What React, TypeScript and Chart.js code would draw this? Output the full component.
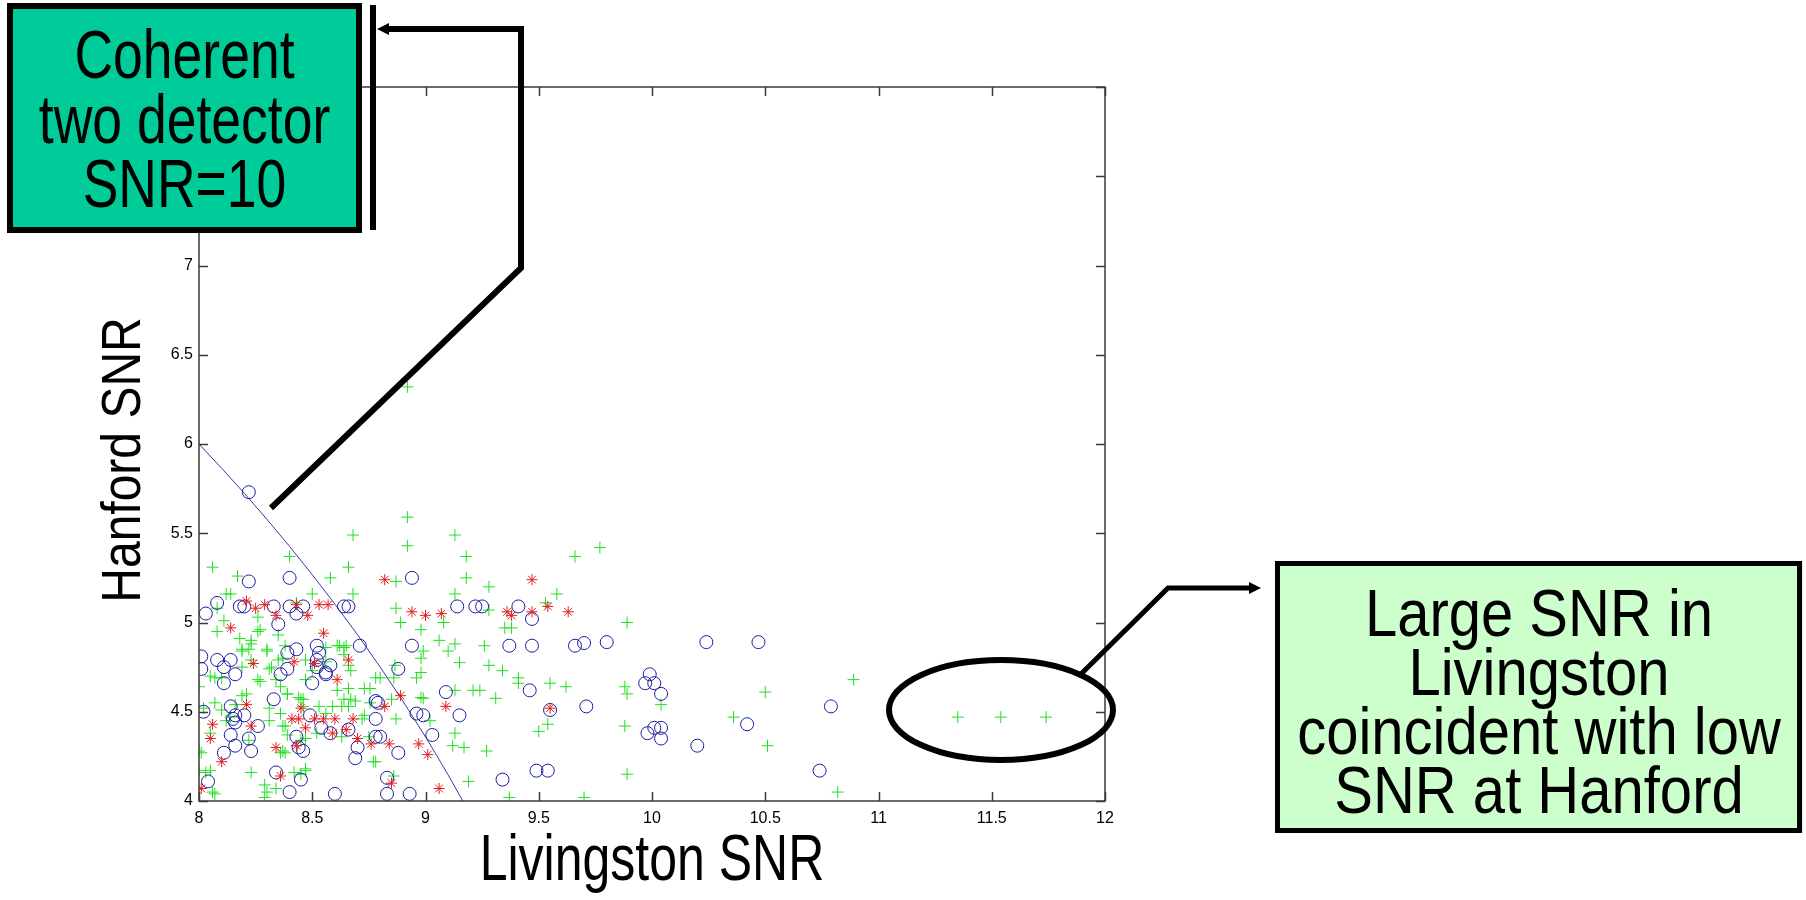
import React, { useEffect, useRef } from 'react';
import { Chart, registerables } from 'chart.js';

Chart.register(...registerables);

// ---------- axis ticks ----------
const xTickValues = [8, 8.5, 9, 9.5, 10, 10.5, 11, 11.5, 12];
const yTickValues = [4, 4.5, 5, 5.5, 6, 6.5, 7, 7.5, 8];

// ---------- labels ----------
const xTitle = 'Livingston SNR';
const yTitle = 'Hanford SNR';
const box1Lines = ['Coherent', 'two detector', 'SNR=10'];
const box2Lines = ['Large SNR in', 'Livingston', 'coincident with low', 'SNR at Hanford'];

// ---------- data: [Livingston SNR, Hanford SNR] ----------
const greenPlus: [number, number][] = [
  [8.92, 6.32], [8.92, 5.59], [8.92, 5.43], [8.68, 5.49], [9.13, 5.49], [8.40, 5.37], [8.06, 5.31],
  [8.17, 5.26], [8.58, 5.25], [8.66, 5.31], [8.87, 5.23], [9.18, 5.37], [9.18, 5.25], [9.28, 5.20],
  [9.13, 5.16], [9.58, 5.16], [9.66, 5.37], [9.77, 5.42], [9.89, 5.00], [8.68, 5.16], [8.50, 5.16],
  [8.12, 5.16], [8.14, 5.16], [8.08, 5.08], [8.11, 5.01], [8.08, 4.95], [8.26, 5.03], [8.26, 4.95],
  [8.18, 4.91], [8.35, 4.93], [8.38, 4.87], [8.43, 5.11], [8.87, 5.08], [8.89, 5.00], [8.98, 4.96],
  [9.08, 5.00], [9.06, 4.90], [9.13, 4.88], [9.10, 4.84], [8.99, 4.84], [8.98, 4.80], [8.98, 4.72],
  [8.96, 4.69], [8.98, 4.58], [9.15, 4.775], [9.26, 4.87], [9.28, 4.76], [9.34, 4.73], [9.41, 4.69],
  [9.41, 4.66], [9.35, 4.97], [9.38, 4.97], [9.53, 5.11], [9.28, 5.07], [9.55, 4.66], [9.62, 4.64],
  [9.13, 4.62], [9.21, 4.62], [9.24, 4.62], [9.31, 4.575], [8.99, 4.575], [9.54, 4.43], [9.50, 4.39],
  [9.13, 4.38], [9.12, 4.31], [9.17, 4.30], [9.27, 4.28], [9.19, 4.11], [9.37, 4.02], [9.70, 4.02],
  [9.88, 4.64], [9.89, 4.60], [9.88, 4.42], [9.89, 4.15], [10.04, 4.54], [10.36, 4.47], [10.50, 4.61],
  [10.51, 4.31], [10.89, 4.68], [10.82, 4.05], [11.35, 4.47], [11.54, 4.47], [11.74, 4.47],
  [9.02, 4.45], [8.87, 4.46], [8.865, 4.76], [8.86, 4.69], [8.78, 4.69], [8.73, 4.63], [8.69, 4.56],
  [8.66, 4.63], [8.63, 4.53], [8.65, 4.87], [8.62, 4.87], [8.64, 4.82], [8.66, 4.76], [8.56, 4.86],
  [8.56, 4.78], [8.47, 4.79], [8.50, 4.73], [8.47, 4.68], [8.44, 4.58], [8.46, 4.53], [8.39, 4.60],
  [8.34, 4.68], [8.32, 4.75], [8.26, 4.68], [8.23, 4.79], [8.19, 4.85], [8.23, 4.90], [8.30, 4.85],
  [8.37, 4.80], [8.05, 4.70], [8.00, 4.64], [8.07, 4.55], [8.10, 4.51], [8.14, 4.47], [8.19, 4.59],
  [8.12, 4.45], [8.05, 4.38], [8.00, 4.28], [8.00, 4.17], [8.05, 4.17], [8.07, 4.04], [8.02, 4.52],
  [8.23, 4.16], [8.29, 4.09], [8.30, 4.05], [8.29, 4.02], [8.34, 4.07], [8.37, 4.28], [8.37, 4.42],
  [8.39, 4.37], [8.31, 4.45], [8.22, 4.34], [8.42, 4.16], [8.47, 4.18], [8.47, 4.35], [8.52, 4.38],
  [8.56, 4.49], [8.59, 4.53], [8.53, 4.53], [8.63, 4.36], [8.66, 4.53], [8.72, 4.46], [8.77, 4.22],
  [8.78, 4.22], [8.75, 4.36], [8.86, 4.14], [8.80, 4.69], [8.755, 4.63], [8.85, 4.57], [8.27, 4.96],
  [8.23, 4.88], [8.22, 4.85], [8.19, 4.84], [8.30, 4.84], [8.35, 4.79], [8.31, 4.74], [8.07, 4.69],
  [8.10, 4.69], [8.19, 4.75], [8.27, 4.67], [8.36, 4.64], [8.39, 4.60], [8.21, 4.60], [8.16, 4.54],
  [8.31, 4.52], [8.36, 4.49], [8.38, 4.42], [8.45, 4.57], [8.46, 4.57], [8.01, 4.27], [8.03, 4.16],
  [8.06, 4.05], [8.45, 4.15], [8.47, 4.17], [8.36, 4.27], [8.38, 4.27], [8.45, 4.34], [8.61, 4.87],
  [8.64, 4.86], [8.67, 4.73], [8.61, 4.62], [8.64, 4.57], [8.67, 4.57], [8.755, 4.55], [8.73, 4.48],
];

const blueCircle: [number, number][] = [
  [8.22, 5.73], [8.40, 5.25], [8.22, 5.23], [8.08, 5.11], [8.03, 5.05], [8.18, 5.09], [8.20, 5.09],
  [8.33, 5.09], [8.40, 5.09], [8.43, 5.05], [8.46, 5.09], [8.35, 4.99], [8.64, 5.09], [8.66, 5.09],
  [8.71, 4.87], [8.52, 4.87], [8.43, 4.85], [8.39, 4.83], [8.53, 4.83], [8.01, 4.81], [8.08, 4.79],
  [8.14, 4.79], [8.01, 4.74], [8.11, 4.75], [8.16, 4.71], [8.36, 4.71], [8.39, 4.74], [8.56, 4.71],
  [8.58, 4.76], [8.11, 4.66], [8.50, 4.66], [8.88, 4.74], [8.33, 4.57], [8.14, 4.53], [8.02, 4.50],
  [8.16, 4.48], [8.20, 4.48], [8.49, 4.48], [8.26, 4.42], [8.15, 4.46], [8.14, 4.37], [8.22, 4.35],
  [8.16, 4.31], [8.23, 4.28], [8.11, 4.27], [8.43, 4.36], [8.44, 4.30], [8.46, 4.28], [8.54, 4.41],
  [8.58, 4.38], [8.66, 4.40], [8.70, 4.30], [8.69, 4.24], [8.78, 4.56], [8.79, 4.55], [8.78, 4.46],
  [8.78, 4.36], [8.80, 4.36], [8.88, 4.27], [8.83, 4.13], [8.83, 4.04], [8.93, 4.04], [8.60, 4.04],
  [8.40, 4.05], [8.34, 4.16], [8.45, 4.12], [8.04, 4.11], [8.94, 5.25], [8.94, 4.87], [8.96, 4.49],
  [8.99, 4.48], [9.03, 4.37], [9.09, 4.61], [9.15, 4.48], [9.14, 5.09], [9.22, 5.09], [9.25, 5.09],
  [9.37, 4.87], [9.41, 5.09], [9.47, 5.02], [9.47, 4.87], [9.46, 4.62], [9.34, 4.12], [9.49, 4.17],
  [9.54, 4.17], [9.55, 4.51], [9.66, 4.87], [9.70, 4.885], [9.80, 4.89], [9.71, 4.53], [9.99, 4.71],
  [9.97, 4.66], [10.01, 4.66], [10.04, 4.60], [9.98, 4.38], [10.01, 4.41], [10.04, 4.41],
  [10.04, 4.35], [10.20, 4.31], [10.42, 4.43], [10.79, 4.53], [10.74, 4.17], [10.24, 4.89],
  [10.47, 4.89], [8.16, 4.44], [8.52, 4.79], [8.52, 4.75], [8.56, 4.72],
];

const redStar: [number, number][] = [
  [8.82, 5.24], [9.47, 5.24], [8.21, 5.12], [8.25, 5.08], [8.29, 5.10], [8.34, 5.04], [8.43, 5.10],
  [8.48, 5.04], [8.53, 5.10], [8.57, 5.10], [8.14, 4.97], [8.94, 5.06], [9.00, 5.04], [9.07, 5.05],
  [9.36, 5.06], [9.38, 5.04], [9.47, 5.06], [9.54, 5.09], [9.63, 5.06], [8.55, 4.94], [8.24, 4.77],
  [8.42, 4.78], [8.66, 4.79], [8.51, 4.77], [8.61, 4.68], [8.89, 4.59], [8.21, 4.54], [8.45, 4.52],
  [8.82, 4.53], [9.09, 4.53], [9.55, 4.52], [8.06, 4.43], [8.23, 4.42], [8.41, 4.46], [8.44, 4.46],
  [8.47, 4.41], [8.51, 4.46], [8.55, 4.46], [8.60, 4.46], [8.68, 4.46], [8.59, 4.38], [8.70, 4.35],
  [8.76, 4.32], [8.84, 4.32], [8.97, 4.32], [9.01, 4.26], [8.05, 4.35], [8.10, 4.22], [8.34, 4.30],
  [8.43, 4.31], [8.36, 4.14], [8.85, 4.10], [9.06, 4.07], [8.01, 4.07], [8.65, 4.40],
];

// coherent two-detector SNR = 10 contour
const contourL = [8.0, 8.1, 8.2, 8.3, 8.4, 8.5, 8.6, 8.7, 8.8, 8.9, 9.0, 9.05, 9.1, 9.165];
const contourH = [6.0, 5.864, 5.724, 5.578, 5.426, 5.268, 5.103, 4.931, 4.75, 4.56, 4.359, 4.254, 4.146, 4.0];

const FONT = "'Liberation Sans', Arial, Helvetica, sans-serif";

function arrowHead(ctx: CanvasRenderingContext2D, tipX: number, tipY: number, dir: number, len: number, half: number) {
  ctx.beginPath();
  ctx.moveTo(tipX, tipY);
  ctx.lineTo(tipX - dir * len, tipY - half);
  ctx.lineTo(tipX - dir * len, tipY + half);
  ctx.closePath();
  ctx.fill();
}

// text with a taller (condensed-looking) glyph shape, as in the original slide
function tallText(ctx: CanvasRenderingContext2D, text: string, x: number, y: number, size: number, sy: number, rot = 0) {
  ctx.save();
  ctx.translate(x, y);
  if (rot) ctx.rotate(rot);
  ctx.scale(1, sy);
  ctx.font = `${size}px ${FONT}`;
  ctx.textAlign = 'center';
  ctx.textBaseline = 'alphabetic';
  ctx.fillText(text, 0, 0);
  ctx.restore();
}

const framePlugin = {
  id: 'frameAndNotes',
  afterDatasetsDraw(chart: any) {
    const { ctx, chartArea } = chart;
    const { left, right, top, bottom } = chartArea;
    const xs = chart.scales.x;
    const ys = chart.scales.y;
    ctx.save();
    ctx.strokeStyle = '#3a3a3a';
    ctx.lineWidth = 1.5;
    ctx.strokeRect(left, top, right - left, bottom - top);
    ctx.beginPath();
    const tl = 9;
    xTickValues.forEach((v) => {
      const p = Math.round(xs.getPixelForValue(v)) + 0.5;
      ctx.moveTo(p, bottom); ctx.lineTo(p, bottom - tl);
      ctx.moveTo(p, top); ctx.lineTo(p, top + tl);
    });
    yTickValues.forEach((v) => {
      const p = Math.round(ys.getPixelForValue(v)) + 0.5;
      ctx.moveTo(left, p); ctx.lineTo(left + tl, p);
      ctx.moveTo(right, p); ctx.lineTo(right - tl, p);
    });
    ctx.stroke();
    ctx.restore();
  },
  afterDraw(chart: any) {
    const { ctx, chartArea } = chart;
    ctx.save();
    ctx.fillStyle = '#000';

    // axis titles
    tallText(ctx, xTitle, (chartArea.left + chartArea.right) / 2, 880, 50, 1.3);
    tallText(ctx, yTitle, 140, 460, 48, 1.15, -Math.PI / 2);

    // box 1
    ctx.fillStyle = '#00CC99';
    ctx.fillRect(7, 3, 355, 230);
    ctx.strokeStyle = '#000';
    ctx.lineWidth = 6;
    ctx.strokeRect(10, 6, 349, 224);
    ctx.fillStyle = '#000';
    const b1 = [78, 143, 207];
    box1Lines.forEach((t, i) => tallText(ctx, t, 184.5, b1[i], 53.5, 1.27));
    ctx.fillRect(370, 5, 6, 225);

    // connector 1
    ctx.lineWidth = 6;
    ctx.lineJoin = 'miter';
    ctx.beginPath();
    ctx.moveTo(271, 508);
    ctx.lineTo(521, 268);
    ctx.lineTo(521, 29);
    ctx.lineTo(386, 29);
    ctx.stroke();
    arrowHead(ctx, 377, 29, -1, 12, 6);

    // ellipse
    ctx.lineWidth = 6;
    ctx.beginPath();
    ctx.ellipse(1001, 710, 112, 50, 0, 0, Math.PI * 2);
    ctx.stroke();

    // connector 2
    ctx.lineWidth = 5;
    ctx.beginPath();
    ctx.moveTo(1080, 675);
    ctx.lineTo(1168, 588);
    ctx.lineTo(1250, 588);
    ctx.stroke();
    arrowHead(ctx, 1261, 588, 1, 12, 6);

    // box 2
    ctx.fillStyle = '#CCFFCC';
    ctx.fillRect(1275, 561, 528, 272);
    ctx.lineWidth = 5;
    ctx.strokeRect(1277.5, 563.5, 522, 267);
    ctx.fillStyle = '#000';
    const b2 = [636, 695, 754, 813];
    box2Lines.forEach((t, i) => tallText(ctx, t, 1539, b2[i], 58, 1.15));

    ctx.restore();
  },
};

export default function App() {
  const ref = useRef<HTMLCanvasElement | null>(null);

  useEffect(() => {
    if (!ref.current) return;
    const toXY = (arr: [number, number][]) => arr.map(([x, y]) => ({ x, y }));
    const tickFont = { family: FONT, size: 16 };
    const chart = new Chart(ref.current, {
      type: 'scatter',
      data: {
        datasets: [
          {
            label: 'red',
            data: toXY(redStar),
            pointStyle: 'star',
            pointRadius: 5.5,
            borderColor: '#e01e1e',
            backgroundColor: '#e01e1e',
            borderWidth: 1,
          },
          {
            label: 'blue',
            data: toXY(blueCircle),
            pointStyle: 'circle',
            pointRadius: 6.5,
            borderColor: '#1c1ca0',
            backgroundColor: 'rgba(0,0,0,0)',
            borderWidth: 1,
          },
          {
            label: 'green',
            data: toXY(greenPlus),
            pointStyle: 'cross',
            pointRadius: 6,
            borderColor: '#22e022',
            backgroundColor: '#22e022',
            borderWidth: 1,
          },
          {
            label: 'contour',
            data: contourL.map((x, i) => ({ x, y: contourH[i] })),
            showLine: true,
            pointRadius: 0,
            borderColor: '#3a3a9e',
            borderWidth: 1,
            fill: false,
          },
        ],
      },
      options: {
        animation: false,
        responsive: false,
        maintainAspectRatio: false,
        events: [],
        layout: { padding: { left: 0, top: 87, right: 701, bottom: 0 } },
        plugins: { legend: { display: false }, tooltip: { enabled: false }, title: { display: false } },
        scales: {
          x: {
            type: 'linear',
            min: 8,
            max: 12,
            afterBuildTicks: (s: any) => { s.ticks = xTickValues.map((value) => ({ value })); },
            afterFit: (s: any) => { s.height = 99; },
            grid: { display: false, drawTicks: false },
            border: { display: false },
            ticks: {
              padding: 8, color: '#000', font: tickFont, autoSkip: false, maxRotation: 0,
              callback: (v: any) => String(Number(v)),
            },
          },
          y: {
            type: 'linear',
            min: 4,
            max: 8,
            afterBuildTicks: (s: any) => { s.ticks = yTickValues.map((value) => ({ value })); },
            afterFit: (s: any) => { s.width = 199; },
            grid: { display: false, drawTicks: false },
            border: { display: false },
            ticks: {
              padding: 6, color: '#000', font: tickFont, autoSkip: false,
              callback: (v: any) => String(Number(v)),
            },
          },
        },
      },
      plugins: [framePlugin],
    } as any);
    return () => chart.destroy();
  }, []);

  return (
    <div style={{ position: 'fixed', left: 0, top: 0, width: 1806, height: 900, background: '#fff' }}>
      <canvas ref={ref} width={1806} height={900} style={{ display: 'block', width: 1806, height: 900 }} />
    </div>
  );
}
